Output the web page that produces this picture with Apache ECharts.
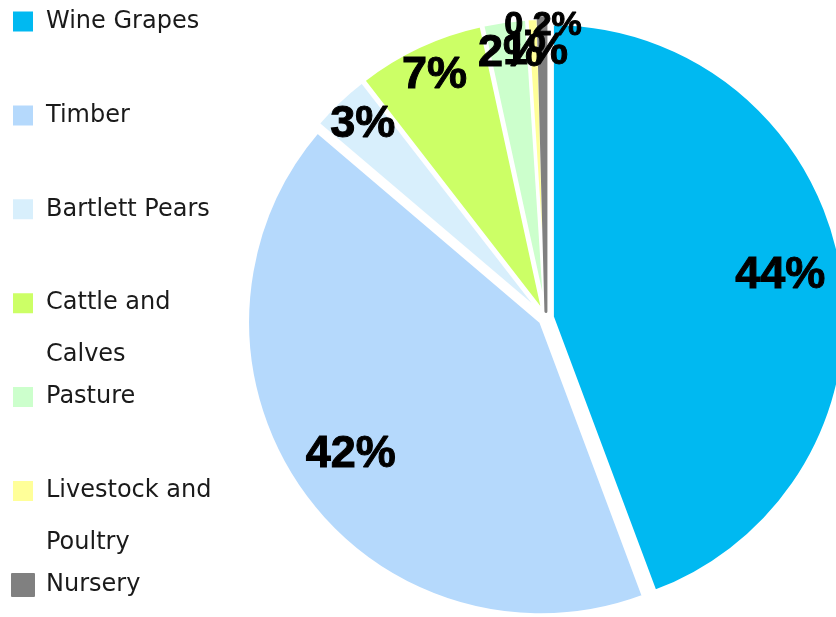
<!DOCTYPE html>
<html><head><meta charset="utf-8">
<script src="https://cdn.jsdelivr.net/npm/echarts@6/dist/echarts.min.js"></script>
<style>html,body{margin:0;padding:0;background:#fff}#c{width:836px;height:617px}</style>
</head><body><div id="c"></div>
<script>
const categories = ['Wine Grapes', 'Timber', 'Bartlett Pears', 'Cattle and Calves', 'Pasture', 'Livestock and Poultry', 'Nursery'];
const shares = [44.4, 42.0, 3.3, 7.1, 2.4, 0.6, 0.2];
const colors = ['#00B9F1', '#B5D9FC', '#D8EFFC', '#CCFF66', '#CCFFCC', '#FFFF99', '#808080'];

const CX = 546, CY = 318, R = 293;
const LEGEND_FONT = 24, LEGEND_LH = 52, WRAP = 172;

const total = shares.reduce((a, b) => a + b, 0);
const mids = [];
let acc = 0;
shares.forEach(v => { mids.push((acc + v / 2) / total * 2 * Math.PI); acc += v; });

const ctx = document.createElement('canvas').getContext('2d');
ctx.font = LEGEND_FONT + 'px "DejaVu Sans"';

function wrapWords(name) {
  const words = name.split(' ');
  const lines = [];
  let cur = '';
  words.forEach(w => {
    const t = cur ? cur + ' ' + w : w;
    if (cur && ctx.measureText(t).width > WRAP) { lines.push(cur); cur = w; }
    else cur = t;
  });
  lines.push(cur);
  return lines;
}

const legends = categories.map((name, i) => {
  const lines = wrapWords(name);
  const n = lines.length;
  // extra blank lines on top keep the first line level with the swatch
  const text = '\n'.repeat(n - 1) + lines.join('\n');
  const boxH = (2 * n - 1) * LEGEND_LH;
  const centerY = 21.5 + i * 93.9;
  return {
    data: [name], orient: 'vertical', left: 11, top: centerY - boxH / 2, padding: 0,
    icon: 'rect', itemWidth: 22, itemHeight: 22,
    formatter: () => text,
    textStyle: {
      fontFamily: 'DejaVu Sans', fontSize: LEGEND_FONT, color: '#1a1a1a',
      lineHeight: LEGEND_LH, padding: [0, 0, 0, 7], backgroundColor: 'rgba(255,255,255,0)'
    }
  };
});

const fmt = v => v >= 0.5 ? Math.round(v) + '%' : v.toFixed(1) + '%';

const chart = echarts.init(document.getElementById('c'), null, {renderer: 'canvas'});
chart.setOption({
  animation: false,
  backgroundColor: '#fff',
  legend: legends,
  series: [{
    type: 'pie',
    center: [CX, CY],
    radius: [0, R],
    startAngle: 90,
    clockwise: true,
    minAngle: 1.5,
    selectedMode: 'multiple',
    selectedOffset: 6.5,
    avoidLabelOverlap: false,
    itemStyle: {borderColor: '#fff', borderWidth: 3},
    select: {itemStyle: {borderColor: '#fff', borderWidth: 3}},
    emphasis: {disabled: true},
    label: {
      show: true, position: 'inside',
      formatter: p => fmt(p.value),
      fontFamily: 'Liberation Sans', fontWeight: 'bold', fontSize: 45,
      color: '#000', textBorderColor: '#000', textBorderWidth: 1
    },
    labelLine: {show: false},
    labelLayout: function (params) {
      const i = params.dataIndex;
      const th = mids[i];
      const share = shares[i] / total;
      const h = params.labelRect.height;
      let gap;
      if (share >= 0.1) gap = params.labelRect.width / 2 + 16;
      else if (share >= 0.005) gap = h / 2 + 10;
      else gap = h / 2 - 10;
      const move = (R - gap) - (R / 2 + 3);
      return {dx: move * Math.sin(th), dy: -move * Math.cos(th)};
    },
    data: categories.map((n, i) => {
      const tiny = shares[i] < 0.5;
      const st = {color: colors[i]};
      if (tiny) st.borderColor = colors[i];
      const item = {name: n, value: shares[i], selected: true, itemStyle: st};
      if (tiny) {
        item.select = {itemStyle: {borderColor: colors[i]}};
        item.label = {fontSize: 34};
      }
      return item;
    })
  }]
});
</script>
</body></html>
